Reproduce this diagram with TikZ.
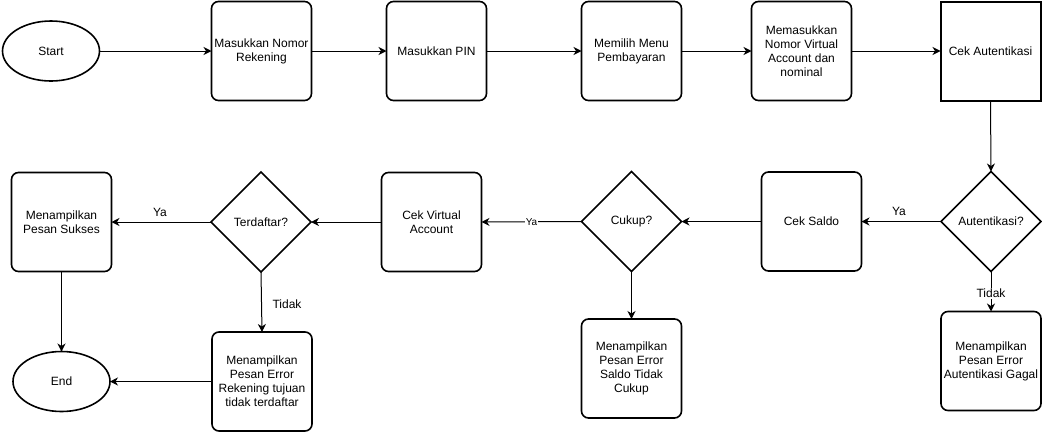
\documentclass[tikz,border=0pt]{standalone}
\usepackage{fontspec}
\setmainfont{Liberation Sans}
\usetikzlibrary{shapes.geometric,arrows.meta}
\begin{document}
\begin{tikzpicture}[x=1pt,y=-1pt,
  every node/.style={font=\fontsize{12pt}{14pt}\selectfont, align=center},
  procbox/.style={draw, line width=1.6pt, rounded corners=7pt, minimum width=100pt, minimum height=99pt, inner sep=0pt, outer sep=0pt},
  decision/.style={draw, line width=1.6pt, diamond, minimum width=100pt, minimum height=100pt, inner sep=0pt, outer sep=0pt},
  terminal/.style={draw, line width=1.6pt, ellipse, minimum width=97pt, minimum height=60pt, inner sep=0pt, outer sep=0pt},
  conn/.style={draw, line width=1pt, -{Stealth[length=8pt,width=8pt,inset=2.5pt]}},
  lbl/.style={fill=white, inner sep=1pt}
]
\useasboundingbox (0,0) rectangle (1042,432);
% top row
\node[terminal] (start) at (51,51) {Start};
\node[procbox] (b1) at (261.5,51) {Masukkan Nomor\\Rekening};
\node[procbox] (b2) at (436.5,51) {Masukkan PIN};
\node[procbox] (b3) at (631.5,51) {Memilih Menu\\Pembayaran};
\node[procbox] (b4) at (801.5,51) {Memasukkan\\Nomor Virtual\\Account dan\\nominal};
\node[draw, line width=2pt, minimum width=100pt, minimum height=99pt, inner sep=0pt, outer sep=0pt] (b5) at (990.5,51) {Cek Autentikasi};
% second row
\node[decision] (d1) at (991,221.5) {Autentikasi?};
\node[procbox] (saldo) at (811.5,221.5) {Cek Saldo};
\node[decision] (d2) at (631.5,221.5) {Cukup?};
\node[procbox] (errsaldo) at (631.5,368.5) {Menampilkan\\Pesan Error\\Saldo Tidak\\Cukup};
\node[procbox] (gagal) at (991,361) {Menampilkan\\Pesan Error\\Autentikasi Gagal};
\node[procbox] (cekva) at (431.5,222) {Cek Virtual\\Account};
\node[decision] (d3) at (261,222) {Terdaftar?};
\node[procbox] (errrek) at (262,381.5) {Menampilkan\\Pesan Error\\Rekening tujuan\\tidak terdaftar};
\node[procbox] (sukses) at (61.5,222) {Menampilkan\\Pesan Sukses};
\node[terminal] (end) at (61.5,381.5) {End};
% connectors
\draw[conn] (start) -- (b1);
\draw[conn] (b1) -- (b2);
\draw[conn] (b2) -- (b3);
\draw[conn] (b3) -- (b4);
\draw[conn] (b4) -- (b5);
\draw[conn] (b5.south) -- (d1.north);
\draw[conn] (d1.west) -- (saldo.east);
\node (ya1) at (899,211) {Ya};
\draw[conn] (d1.south) -- (gagal.north) node[pos=0.54, lbl] (tidak1) {Tidak};
\draw[conn] (saldo.west) -- (d2.east);
\draw[conn] (d2.south) -- (errsaldo.north);
\draw[conn] (d2.west) -- (cekva.east) node[pos=0.5, lbl, font=\fontsize{10pt}{12pt}\selectfont] (ya2) {Ya};
\draw[conn] (cekva.west) -- (d3.east);
\draw[conn] (d3.west) -- (sukses.east);
\node (ya3) at (160,212) {Ya};
\draw[conn] (d3.south) -- (errrek.north);
\node (tidak2) at (287,304) {Tidak};
\draw[conn] (errrek.west) -- (end.east);
\draw[conn] (sukses.south) -- (end.north);
\end{tikzpicture}
\end{document}
